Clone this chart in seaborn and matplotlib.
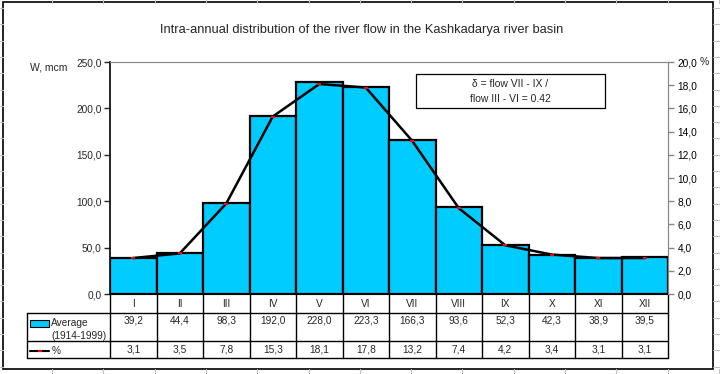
import numpy as np
import pandas as pd
import matplotlib
matplotlib.use('Agg')
import matplotlib.pyplot as plt
from matplotlib.patches import Rectangle
from matplotlib.lines import Line2D
import matplotlib.transforms as mtrans
import seaborn as sns

# data
months = ['I', 'II', 'III', 'IV', 'V', 'VI', 'VII', 'VIII', 'IX', 'X', 'XI', 'XII']
flow = [39.2, 44.4, 98.3, 192.0, 228.0, 223.3, 166.3, 93.6, 52.3, 42.3, 38.9, 39.5]
pct = [3.1, 3.5, 7.8, 15.3, 18.1, 17.8, 13.2, 7.4, 4.2, 3.4, 3.1, 3.1]

df = pd.DataFrame({'month': months, 'flow': flow, 'pct': pct})

sns.set_style('white')
plt.rcParams['font.family'] = ['Liberation Sans', 'DejaVu Sans']

W, H = 720, 374
fig = plt.figure(figsize=(W / 100, H / 100), dpi=100)

def px(x0, y0, x1, y1):
    return [x0 / W, 1 - y1 / H, (x1 - x0) / W, (y1 - y0) / H]

ax = fig.add_axes(px(110, 62, 668, 294))
cyan = '#00CCFF'
sns.barplot(data=df, x='month', y='flow', ax=ax, color=cyan, width=1.0,
            edgecolor='black', linewidth=1.6, saturation=1)
ax.set_xlim(-0.5, 11.5)
ax.set_ylim(0, 250)
ax.set_yticks(np.arange(0, 251, 50))
ax.set_yticklabels([f'{v:.1f}'.replace('.', ',') for v in np.arange(0, 251, 50)], fontsize=7.3)
ax.set_xticks([])
ax.set_xlabel('')
ax.set_ylabel('')
ax.tick_params(axis='y', direction='out', length=4, width=1, pad=2, left=True)
ax.spines['left'].set_color('black')
ax.spines['left'].set_linewidth(1.2)
ax.spines['top'].set_color('#888888')
ax.spines['bottom'].set_color('black')
ax.spines['right'].set_color('#888888')

ax2 = ax.twinx()
sns.lineplot(x=np.arange(len(months)), y=pct, ax=ax2, color='black', linewidth=1.8,
             marker='_', markersize=3, markeredgecolor='red', markeredgewidth=1.5)
ax2.set_xlim(-0.5, 11.5)
ax2.set_ylim(0, 20)
ax2.set_yticks(np.arange(0, 21, 2))
ax2.set_yticklabels([f'{v:.1f}'.replace('.', ',') for v in np.arange(0, 21, 2)], fontsize=7.3)
ax2.tick_params(axis='y', direction='out', length=4, width=1, pad=3, colors='black', right=True)
ax2.tick_params(axis='y', color='#888888')
ax2.spines['right'].set_color('#888888')
ax2.spines['top'].set_color('#888888')
for s in ['left', 'bottom']:
    ax2.spines[s].set_visible(False)

# data table below the plot
tr = mtrans.blended_transform_factory(ax.transData, ax.transAxes)
r1, r2, r3 = -0.0819, -0.2026, -0.2759
x_left = (27 - 110) / 558 * 12 - 0.5
lk = dict(color='black', linewidth=1.0, clip_on=False, transform=tr)
for i in range(13):
    ax.add_line(Line2D([i - 0.5, i - 0.5], [0, r3], **lk))
ax.add_line(Line2D([x_left, 11.5], [r1, r1], **lk))
ax.add_line(Line2D([x_left, 11.5], [r2, r2], **lk))
ax.add_line(Line2D([x_left, 11.5], [r3, r3], **lk))
ax.add_line(Line2D([x_left, x_left], [r1, r3], **lk))
for i, m in enumerate(months):
    ax.text(i, (0 + r1) / 2, m, transform=tr, ha='center', va='center', fontsize=7.3)
    ax.text(i, r1 - 0.012, f'{flow[i]:.1f}'.replace('.', ','), transform=tr,
            ha='center', va='top', fontsize=7.3)
    ax.text(i, (r2 + r3) / 2, f'{pct[i]:.1f}'.replace('.', ','), transform=tr,
            ha='center', va='center', fontsize=7.3)

# legend keys inside the table
fig.patches.append(Rectangle((30 / W, 1 - 327 / H), 19 / W, 7 / H, transform=fig.transFigure,
                             facecolor=cyan, edgecolor='black', linewidth=0.8))
fig.text(51 / W, 1 - 323 / H, 'Average', fontsize=7.3, va='center', ha='left')
fig.text(51 / W, 1 - 336 / H, '(1914-1999)', fontsize=7.3, va='center', ha='left')
fig.add_artist(Line2D([30 / W, 49 / W], [1 - 351 / H] * 2, color='black', linewidth=1.5))
fig.add_artist(Line2D([39.5 / W], [1 - 351 / H], color='red', marker='_', markersize=3,
                      markeredgewidth=1.5))
fig.text(52 / W, 1 - 351 / H, '%', fontsize=7.3, va='center', ha='left')

# titles and axis labels
fig.text(362 / W, 1 - 30 / H, 'Intra-annual distribution of the river flow in the Kashkadarya river basin',
         ha='center', va='center', fontsize=9.3)
fig.text(30 / W, 1 - 67 / H, 'W, mcm', fontsize=7.5, ha='left', va='center')
fig.text(700 / W, 1 - 62 / H, '%', fontsize=7.5, ha='left', va='center')

# annotation box
fig.patches.append(Rectangle((416 / W, 1 - 108 / H), 189 / W, 34 / H, transform=fig.transFigure,
                             facecolor='white', edgecolor='black', linewidth=0.9))
fig.text(510 / W, 1 - 84 / H, 'δ = flow VII - IX /', ha='center', va='center', fontsize=7.5)
fig.text(510 / W, 1 - 99 / H, 'flow III - VI = 0.42', ha='center', va='center', fontsize=7.5)

# spreadsheet grid around the chart frame
gk = dict(color='#c0c0c0', linewidth=0.8)
for x in np.arange(52, 720, 51.3):
    fig.add_artist(Line2D([x / W] * 2, [1, 1 - 3 / H], **gk))
    fig.add_artist(Line2D([x / W] * 2, [0, 5 / H], **gk))
for y in np.arange(8, 374, 16.3):
    fig.add_artist(Line2D([0, 3 / W], [1 - y / H] * 2, **gk))
    fig.add_artist(Line2D([713 / W, 1], [1 - y / H] * 2, **gk))
fig.patches.append(Rectangle((3 / W, 1 - 369 / H), 710 / W, 367 / H, transform=fig.transFigure,
                             facecolor='none', edgecolor='black', linewidth=1.2))

fig.savefig('out.png', dpi=100)
